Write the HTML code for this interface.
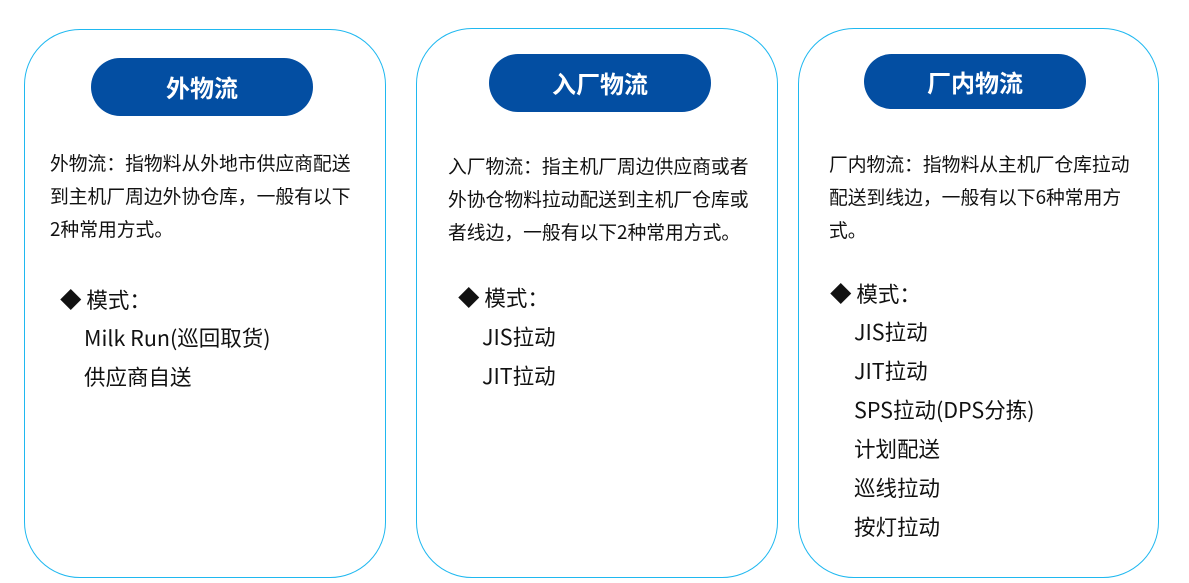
<!DOCTYPE html>
<html><head><meta charset="utf-8"><style>
body{margin:0;width:1189px;height:583px;background:#fff;position:relative;overflow:hidden;font-family:"Liberation Sans","Noto Sans CJK SC",sans-serif;color:#111}
.card{position:absolute;border:1.5px solid #1fb8f0;border-radius:56px;box-sizing:border-box}
.pill{position:absolute;background:#034ea2;color:#fff;border-radius:30px;font-weight:bold;font-size:24px;text-align:center;font-family:"Noto Sans CJK SC",sans-serif}
.t{position:absolute;font-size:18.8px;line-height:33px;white-space:nowrap;font-family:"Noto Sans CJK SC",sans-serif}
.l{position:absolute;font-size:21.5px;line-height:39px;white-space:nowrap;font-family:"Noto Sans CJK SC",sans-serif}
</style></head><body>
<div class="card" style="left:24px;top:29px;width:362px;height:549px"></div>
<div class="card" style="left:416px;top:28px;width:362px;height:550px"></div>
<div class="card" style="left:798px;top:28px;width:361px;height:550px"></div>

<div class="pill" style="left:91px;top:58px;width:222px;height:58px;line-height:58px">外物流</div>
<div class="pill" style="left:489px;top:54px;width:222px;height:58px;line-height:58px">入厂物流</div>
<div class="pill" style="left:864px;top:54px;width:222px;height:55px;line-height:55px">厂内物流</div>

<div class="t" style="left:50px;top:146px">外物流：指物料从外地市供应商配送<br>到主机厂周边外协仓库，一般有以下<br>2种常用方式。</div>
<div class="t" style="left:448px;top:149px">入厂物流：指主机厂周边供应商或者<br>外协仓物料拉动配送到主机厂仓库或<br>者线边，一般有以下2种常用方式。</div>
<div class="t" style="left:829px;top:147px">厂内物流：指物料从主机厂仓库拉动<br>配送到线边，一般有以下6种常用方<br>式。</div>

<div class="l" style="left:60px;top:280px">◆ 模式：</div>
<div class="l" style="left:84px;top:318px">Milk Run(巡回取货)<br>供应商自送</div>

<div class="l" style="left:458px;top:278px">◆ 模式：</div>
<div class="l" style="left:482px;top:317px">JIS拉动<br>JIT拉动</div>

<div class="l" style="left:830px;top:274px">◆ 模式：</div>
<div class="l" style="left:854px;top:312px">JIS拉动<br>JIT拉动<br>SPS拉动(DPS分拣)<br>计划配送<br>巡线拉动<br>按灯拉动</div>
</body></html>
